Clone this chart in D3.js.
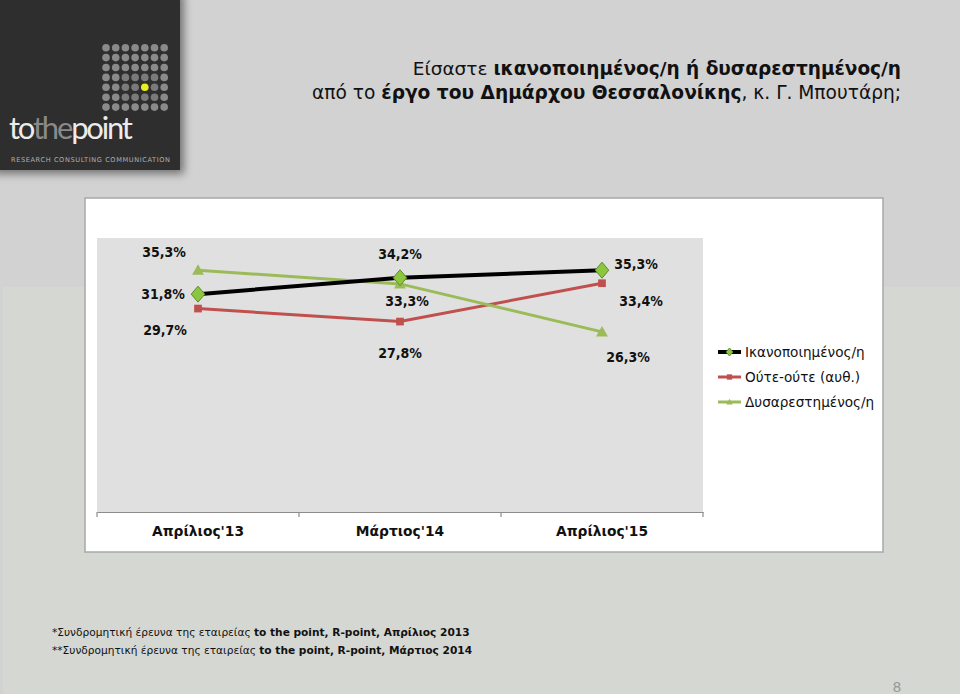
<!DOCTYPE html>
<html><head><meta charset="utf-8">
<script src="https://cdn.jsdelivr.net/npm/d3@7/dist/d3.min.js"></script>
<style>html,body{margin:0;padding:0;background:#d3d3d3;}svg{display:block;}</style>
</head><body>
<script>
// ---- data ----
const categories = ["Απρίλιος'13", "Μάρτιος'14", "Απρίλιος'15"];
const seriesNames = ["Ικανοποιημένος/η", "Ούτε-ούτε (αυθ.)", "Δυσαρεστημένος/η"];
const satisfied = [31.8, 34.2, 35.3];
const neither = [29.7, 27.8, 33.4];
const dissatisfied = [35.3, 33.3, 26.3];
const titleLine1 = [["Είσαστε ", false], ["ικανοποιημένος/η ή δυσαρεστημένος/η", true]];
const titleLine2 = [["από το ", false], ["έργο του Δημάρχου Θεσσαλονίκης", true], [", κ. Γ. Μπουτάρη;", false]];
const footnote1 = [["*Συνδρομητική έρευνα της εταιρείας ", false], ["to the point, R-point, Απρίλιος 2013", true]];
const footnote2 = [["**Συνδρομητική έρευνα της εταιρείας ", false], ["to the point, R-point, Μάρτιος 2014", true]];

// ---- layout / style (not data) ----
const W = 960, H = 694;
const plot = {x0: 97, x1: 703, y0: 238, y1: 512};
const styles = [
  {color: "#000000", width: 4, marker: "diamond"},
  {color: "#c0504d", width: 3, marker: "square"},
  {color: "#9bbb59", width: 3, marker: "triangle"}
];
// label offsets (dx, dy) relative to each point
const labelOffsets = [
  [[-35, 0], [0, -24], [34, -6]],
  [[-33, 21], [0, 31], [39, 18]],
  [[-34, -18], [7, 17], [26, 25]]
];
const seriesValues = [satisfied, neither, dissatisfied];

const svg = d3.select("body").append("svg").attr("width", W).attr("height", H);
const defs = svg.append("defs");
const sh = defs.append("filter").attr("id", "shadow").attr("x", "-10%").attr("y", "-10%").attr("width", "130%").attr("height", "130%");
sh.append("feDropShadow").attr("dx", 4).attr("dy", 4).attr("stdDeviation", 4).attr("flood-color", "#000").attr("flood-opacity", 0.45);

// background
svg.append("rect").attr("width", W).attr("height", H).attr("fill", "#d2d2d2");
svg.append("rect").attr("x", 3).attr("y", 287).attr("width", W - 3).attr("height", H - 287).attr("fill", "#d5d7d3");

// logo
const logo = svg.append("g");
logo.append("rect").attr("x", -10).attr("y", -10).attr("width", 190).attr("height", 180).attr("fill", "#2d2d2d").attr("filter", "url(#shadow)");
for (let r = 0; r < 7; r++) {
  for (let c = 0; c < 7; c++) {
    const yellow = (r === 4 && c === 4);
    logo.append("circle").attr("cx", 106 + c * 9.7).attr("cy", 47.7 + r * 9.9).attr("r", 3.8)
      .attr("fill", yellow ? "#e6f01e" : ((r >= 3 && r <= 5 && c >= 2 && c <= 5) ? "#7a7a7a" : "#8a8a8a"));
  }
}
const lt = logo.append("text").attr("x", 9).attr("y", 139).attr("font-family", "Lato, 'Open Sans', sans-serif").attr("font-size", 31).attr("letter-spacing", -2.2);
lt.append("tspan").text("to").attr("fill", "#ececec");
lt.append("tspan").text("the").attr("fill", "#8a8a8a");
lt.append("tspan").text("point").attr("fill", "#ececec");
logo.append("text").attr("x", 11).attr("y", 162).attr("font-family", "'DejaVu Sans', sans-serif").attr("font-size", 6.6).attr("letter-spacing", 0.6).attr("fill", "#b0b0b0")
  .text("RESEARCH  CONSULTING  COMMUNICATION");

// title
function richText(g, parts, x, y, size, anchor) {
  const t = g.append("text").attr("x", x).attr("y", y).attr("font-family", "'DejaVu Sans', Verdana, sans-serif")
    .attr("font-size", size).attr("text-anchor", anchor).attr("fill", "#111");
  parts.forEach(([s, b]) => t.append("tspan").text(s).attr("font-weight", b ? "bold" : "normal"));
  return t;
}
richText(svg, titleLine1, 901, 75, 18.5, "end");
richText(svg, titleLine2, 901, 99, 18.6, "end");

// chart panel
svg.append("rect").attr("x", 85).attr("y", 198).attr("width", 798).attr("height", 354)
  .attr("fill", "#ffffff").attr("stroke", "#a8a8a8").attr("stroke-width", 1.5);
svg.append("rect").attr("x", plot.x0).attr("y", plot.y0).attr("width", plot.x1 - plot.x0).attr("height", plot.y1 - plot.y0).attr("fill", "#e0e0e0");

const x = d3.scaleBand().domain(categories).range([plot.x0, plot.x1]);
const y = d3.scaleLinear().domain([0, 40]).range([plot.y1, plot.y0]);
const cx = d => x(d) + x.bandwidth() / 2;

// x axis
const ax = svg.append("g").attr("transform", `translate(0,${plot.y1})`)
  .call(d3.axisBottom(x).tickSize(0).tickPadding(14));
ax.select(".domain").attr("stroke", "#8c8c8c").attr("stroke-width", 1.2);
ax.selectAll("text").attr("font-family", "'DejaVu Sans', Verdana, sans-serif").attr("font-size", 13.8).attr("font-weight", "bold").attr("fill", "#111");
const bounds = categories.map(c => x(c)).concat([x(categories[categories.length - 1]) + x.bandwidth()]);
ax.selectAll(".btick").data(bounds).enter().append("line").attr("class", "btick")
  .attr("x1", d => d).attr("x2", d => d).attr("y1", 0).attr("y2", 5).attr("stroke", "#8c8c8c").attr("stroke-width", 1.2);

// markers
function drawMarker(g, type, px, py, s) {
  if (type === "diamond") {
    g.append("path").attr("d", `M${px},${py - s}L${px + s * 0.85},${py}L${px},${py + s}L${px - s * 0.85},${py}Z`)
      .attr("fill", "#8cc63f").attr("stroke", "#5f8a2a").attr("stroke-width", 1);
  } else if (type === "square") {
    g.append("rect").attr("x", px - s * 0.7).attr("y", py - s * 0.7).attr("width", s * 1.4).attr("height", s * 1.4).attr("fill", "#c0504d");
  } else {
    g.append("path").attr("d", `M${px},${py - s * 0.85}L${px + s * 0.85},${py + s * 0.65}L${px - s * 0.85},${py + s * 0.65}Z`).attr("fill", "#9bbb59");
  }
}
const markerSize = {diamond: 8, square: 5.5, triangle: 7};

const drawOrder = [1, 2, 0];
drawOrder.forEach(i => {
  const vals = seriesValues[i];
  const st = styles[i];
  const g = svg.append("g");
  g.append("path").datum(vals).attr("fill", "none").attr("stroke", st.color).attr("stroke-width", st.width)
    .attr("d", d3.line().x((d, j) => cx(categories[j])).y(d => y(d)));
  vals.forEach((v, j) => drawMarker(g, st.marker, cx(categories[j]), y(v), markerSize[st.marker]));
});

// data labels
seriesValues.forEach((vals, i) => {
  vals.forEach((v, j) => {
    svg.append("text").attr("x", cx(categories[j]) + labelOffsets[i][j][0]).attr("y", y(v) + labelOffsets[i][j][1])
      .attr("text-anchor", "middle").attr("dominant-baseline", "central")
      .attr("font-family", "'DejaVu Sans Condensed', 'DejaVu Sans', sans-serif").attr("font-size", 14).attr("font-weight", "bold").attr("fill", "#111")
      .text(d3.format(".1f")(v).replace(".", ",") + "%");
  });
});

// legend
const legend = svg.append("g");
seriesNames.forEach((n, i) => {
  const ly = 352 + i * 25;
  const st = styles[i];
  legend.append("line").attr("x1", 718).attr("x2", 741).attr("y1", ly).attr("y2", ly).attr("stroke", st.color).attr("stroke-width", st.width);
  drawMarker(legend, st.marker, 729.5, ly, i === 0 ? 4 : 3.8);
  legend.append("text").attr("x", 745).attr("y", ly).attr("dominant-baseline", "central")
    .attr("font-family", "'DejaVu Sans', Verdana, sans-serif").attr("font-size", 13.6).attr("fill", "#111").text(n);
});

// footnotes
richText(svg, footnote1, 52, 636, 10.6, "start");
richText(svg, footnote2, 52, 654, 10.6, "start");

// page number
svg.append("text").attr("x", 897).attr("y", 692).attr("text-anchor", "middle").attr("font-family", "'DejaVu Sans', sans-serif")
  .attr("font-size", 14).attr("fill", "#9a9a9a").text("8");
</script>
</body></html>
